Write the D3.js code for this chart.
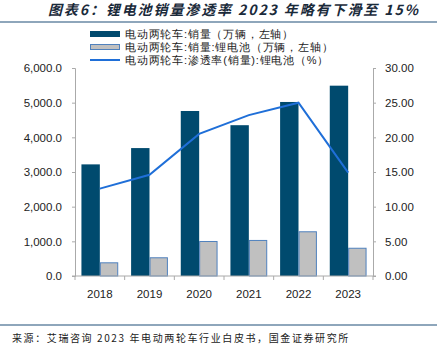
<!DOCTYPE html>
<html>
<head>
<meta charset="utf-8">
<script src="https://cdn.jsdelivr.net/npm/d3@7"></script>
<style>
  body { margin: 0; background: #fff; }
  svg text { font-family: "Liberation Sans", Arial, sans-serif; fill: #222; }
  .cjk { font-family: "Noto Sans CJK SC", sans-serif; }
</style>
</head>
<body>
<div id="chart"></div>
<script>
// Data
const years = ["2018", "2019", "2020", "2021", "2022", "2023"];
const salesTotal = [3220, 3690, 4760, 4350, 5020, 5490];     // 万辆, left axis
const salesLithium = [395, 540, 1010, 1040, 1290, 815];      // 万辆, left axis
const penetration = [12.6, 14.6, 20.5, 23.2, 25.0, 14.9];    // %, right axis
const leftTicks = [0, 1000, 2000, 3000, 4000, 5000, 6000];
const rightTicks = [0, 5, 10, 15, 20, 25, 30];
const legendLabels = [
    "电动两轮车:销量（万辆，左轴）",
    "电动两轮车:销量:锂电池（万辆，左轴）",
    "电动两轮车:渗透率(销量):锂电池（%）"
];

const width = 437, height = 353;
const margin = { left: 75, right: 64, top: 68, bottom: 77 };

const svg = d3.select("#chart").append("svg")
    .attr("width", width)
    .attr("height", height);

// Title and frame lines
svg.append("text")
    .attr("class", "cjk")
    .attr("x", 420)
    .attr("y", 15)
    .attr("text-anchor", "end")
    .attr("font-size", 14)
    .attr("font-weight", "bold")
    .attr("font-style", "italic")
    .attr("letter-spacing", 1.9)
    .style("fill", "#1a2a3a")
    .text("图表6：锂电池销量渗透率 2023 年略有下滑至 15%");

svg.append("line")
    .attr("x1", 0).attr("x2", width)
    .attr("y1", 22).attr("y2", 22)
    .attr("stroke", "#1f4e79").attr("stroke-width", 1.2);

svg.append("line")
    .attr("x1", 0).attr("x2", width)
    .attr("y1", 325).attr("y2", 325)
    .attr("stroke", "#1f4e79").attr("stroke-width", 1.2);

svg.append("text")
    .attr("class", "cjk")
    .attr("x", 12)
    .attr("y", 342)
    .attr("font-size", 10)
    .attr("letter-spacing", 1.6)
    .text("来源：艾瑞咨询 2023 年电动两轮车行业白皮书，国金证券研究所");

// Scales
const x = d3.scaleBand()
    .domain(years)
    .range([margin.left, width - margin.right]);

const inner = d3.scaleBand()
    .domain(["total", "lithium"])
    .range([0, x.bandwidth()])
    .paddingOuter(0.35)
    .paddingInner(0);

const yLeft = d3.scaleLinear()
    .domain([0, 6000])
    .range([height - margin.bottom, margin.top]);

const yRight = d3.scaleLinear()
    .domain([0, 30])
    .range([height - margin.bottom, margin.top]);

// Bars
const g = svg.append("g");
g.selectAll(".bar-total")
    .data(years)
    .enter().append("rect")
    .attr("class", "bar-total")
    .attr("x", d => x(d) + inner("total"))
    .attr("width", inner.bandwidth())
    .attr("y", (d, i) => yLeft(salesTotal[i]))
    .attr("height", (d, i) => yLeft(0) - yLeft(salesTotal[i]))
    .attr("fill", "#004a6e");

g.selectAll(".bar-lithium")
    .data(years)
    .enter().append("rect")
    .attr("class", "bar-lithium")
    .attr("x", d => x(d) + inner("lithium") + 0.5)
    .attr("width", inner.bandwidth() - 1)
    .attr("y", (d, i) => yLeft(salesLithium[i]) + 0.5)
    .attr("height", (d, i) => yLeft(0) - yLeft(salesLithium[i]) - 0.5)
    .attr("fill", "#c0c0c0")
    .attr("stroke", "#4f81bd")
    .attr("stroke-width", 1);

// Penetration line
const line = d3.line()
    .x((d, i) => x(years[i]) + x.bandwidth() / 2)
    .y(d => yRight(d));

svg.append("path")
    .datum(penetration)
    .attr("d", line)
    .attr("fill", "none")
    .attr("stroke", "#1f6fd8")
    .attr("stroke-width", 2);

// Axes
const axisColor = "#aaa";

const leftAxis = svg.append("g")
    .attr("transform", `translate(${margin.left},0)`)
    .call(d3.axisLeft(yLeft).tickValues(leftTicks).tickSize(3).tickPadding(10)
        .tickFormat(d3.format(",.1f")));

const rightAxis = svg.append("g")
    .attr("transform", `translate(${width - margin.right},0)`)
    .call(d3.axisRight(yRight).tickValues(rightTicks).tickSize(3).tickPadding(9)
        .tickFormat(d3.format(".2f")));

const bottomAxis = svg.append("g")
    .attr("transform", `translate(0,${height - margin.bottom})`)
    .call(d3.axisBottom(x).tickSize(0).tickPadding(14));

// boundary ticks on x axis
svg.append("g")
    .selectAll("line")
    .data(d3.range(years.length + 1))
    .enter().append("line")
    .attr("x1", i => margin.left + i * x.step())
    .attr("x2", i => margin.left + i * x.step())
    .attr("y1", height - margin.bottom)
    .attr("y2", height - margin.bottom + 4)
    .attr("stroke", axisColor);

[leftAxis, rightAxis, bottomAxis].forEach(a => {
    a.selectAll(".domain").attr("stroke", axisColor);
    a.selectAll(".tick line").attr("stroke", axisColor);
    a.selectAll("text").attr("font-size", 11.5).style("fill", "#222");
});
bottomAxis.select(".domain").attr("d", `M${margin.left - 3},0H${width - margin.right + 3}`);

// Legend
const legend = svg.append("g").attr("transform", "translate(90,0)");
const legendY = [34, 47, 60];

legend.append("rect")
    .attr("x", 0).attr("y", legendY[0] - 3)
    .attr("width", 30).attr("height", 6)
    .attr("fill", "#004a6e");
legend.append("rect")
    .attr("x", 0.5).attr("y", legendY[1] - 2.5)
    .attr("width", 29).attr("height", 5)
    .attr("fill", "#c0c0c0")
    .attr("stroke", "#4f81bd");
legend.append("line")
    .attr("x1", 0).attr("x2", 30)
    .attr("y1", legendY[2]).attr("y2", legendY[2])
    .attr("stroke", "#1f6fd8").attr("stroke-width", 2);

legend.selectAll(".legend-label")
    .data(legendLabels)
    .enter().append("text")
    .attr("class", "legend-label")
    .attr("x", 35)
    .attr("y", (d, i) => legendY[i] + 4)
    .attr("font-size", 11)
    .attr("letter-spacing", 0.8)
    .text(d => d);
</script>
</body>
</html>
